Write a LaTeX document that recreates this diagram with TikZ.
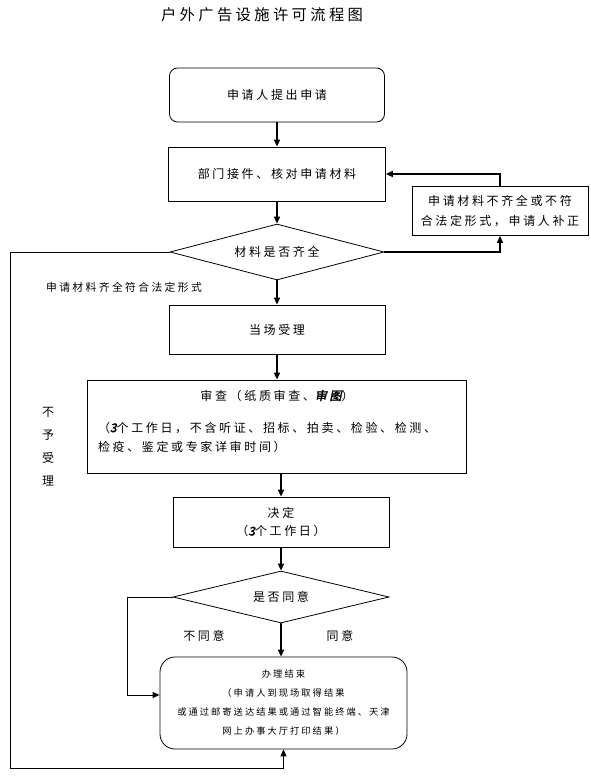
\documentclass[tikz,border=0pt]{standalone}
\usepackage{fontspec}
\newfontfamily\cjk[LetterSpace=22]{Noto Sans CJK SC}
\newfontfamily\cjkbi[LetterSpace=22,FakeSlant=0.2,FakeBold=2.5]{Noto Sans CJK SC}
\usetikzlibrary{positioning,arrows.meta,shapes.geometric}
\tikzset{
    >={Triangle[length=7pt,width=6pt]},
    stepbox/.style={
        rectangle,
        draw,
        line width=0.8pt,
        minimum width=216,
        minimum height=50,
        align=center,
        font={\cjk\fontsize{12}{19}\selectfont}
    },
    roundbox/.style={
        stepbox,
        rounded corners=8pt
    },
    decision/.style={
        diamond,
        draw,
        line width=0.8pt,
        aspect=4,
        inner sep=0pt,
        minimum width=216,
        minimum height=56,
        font={\cjk\fontsize{12}{19}\selectfont}
    },
    note/.style={align=center, font={\cjk\fontsize{12}{19}\selectfont}},
    line/.style={draw, line width=2pt, ->},
    thinline/.style={draw, line width=0.9pt, ->},
}

\begin{document}
\begin{tikzpicture}[x=1pt, y=-1pt]
\useasboundingbox (0,0) rectangle (590,776);
\node[note, font={\cjk\fontsize{15.3}{19}\selectfont}] (title) at (262,15) {户外广告设施许可流程图};

\node[roundbox, minimum width=215, minimum height=54] (apply) at (277,95) {申请人提出申请};
\node[stepbox, minimum width=217, minimum height=54] (accept) at (277,174) {部门接件、核对申请材料};
\node[decision, minimum width=214] (check) at (277,252) {材料是否齐全};
\node[stepbox, minimum width=176, minimum height=49, font={\cjk\fontsize{12}{20}\selectfont}] (supplement) at (500,211) {申请材料不齐全或不符\\合法定形式，申请人补正};
\node[stepbox, minimum height=49] (onsite) at (277,329.5) {当场受理};
\node[stepbox, text width=358, align=left, minimum width=379, minimum height=93] (review) at (277,426.5) {\makebox[\hsize][c]{审查（纸质审查、{\cjkbi 审图}）}\\[13pt]（{\cjkbi 3}个工作日，不含听证、招标、拍卖、检验、检测、\\检疫、鉴定或专家详审时间）\\[-7pt]\mbox{}};
\node[stepbox, font={\cjk\fontsize{12}{18}\selectfont}] (decide) at (281,522) {决定\\（{\cjkbi 3}个工作日）};
\node[decision, minimum height=52] (agree) at (281,597) {是否同意};
\node[roundbox, rounded corners=15pt, minimum width=247, minimum height=92, font={\cjk\fontsize{9.25}{19}\selectfont}] (finish) at (283.5,703) {办理结束\\（申请人到现场取得结果\\或通过邮寄送达结果或通过智能终端、天津\\网上办事大厅打印结果）};

\node[note, font={\cjk\fontsize{10.8}{19}\selectfont}] (complete) at (124,287) {申请材料齐全符合法定形式};
\node[note, font={\cjk\fontsize{12}{23}\selectfont}] (reject) at (48,447) {不\\予\\受\\理};
\node[note] (disagree) at (204,636) {不同意};
\node[note] (agreed) at (340,636) {同意};

\draw[line] (apply) -- (accept);
\draw[line] (accept) -- (check);
\draw[line] (check) -- (onsite);
\draw[line] (onsite) -- (review);
\draw[line] (review.south -| decide.north) -- (decide);
\draw[line] (decide) -- (agree);
\draw[line] (agree.south) -- (agree.south |- finish.north);
\draw[line, line width=1.2pt] (check.east) -| (supplement.south);
\draw[line] (supplement.north) |- (accept.east);

\coordinate (rejectcorner) at (10,768);
\draw[thinline] (check.west) -| (rejectcorner) -| (finish.south);
\coordinate (refusecorner) at (127,695);
\draw[thinline] (agree.west) -| (refusecorner) -- (refusecorner -| finish.west);
\end{tikzpicture}
\end{document}
